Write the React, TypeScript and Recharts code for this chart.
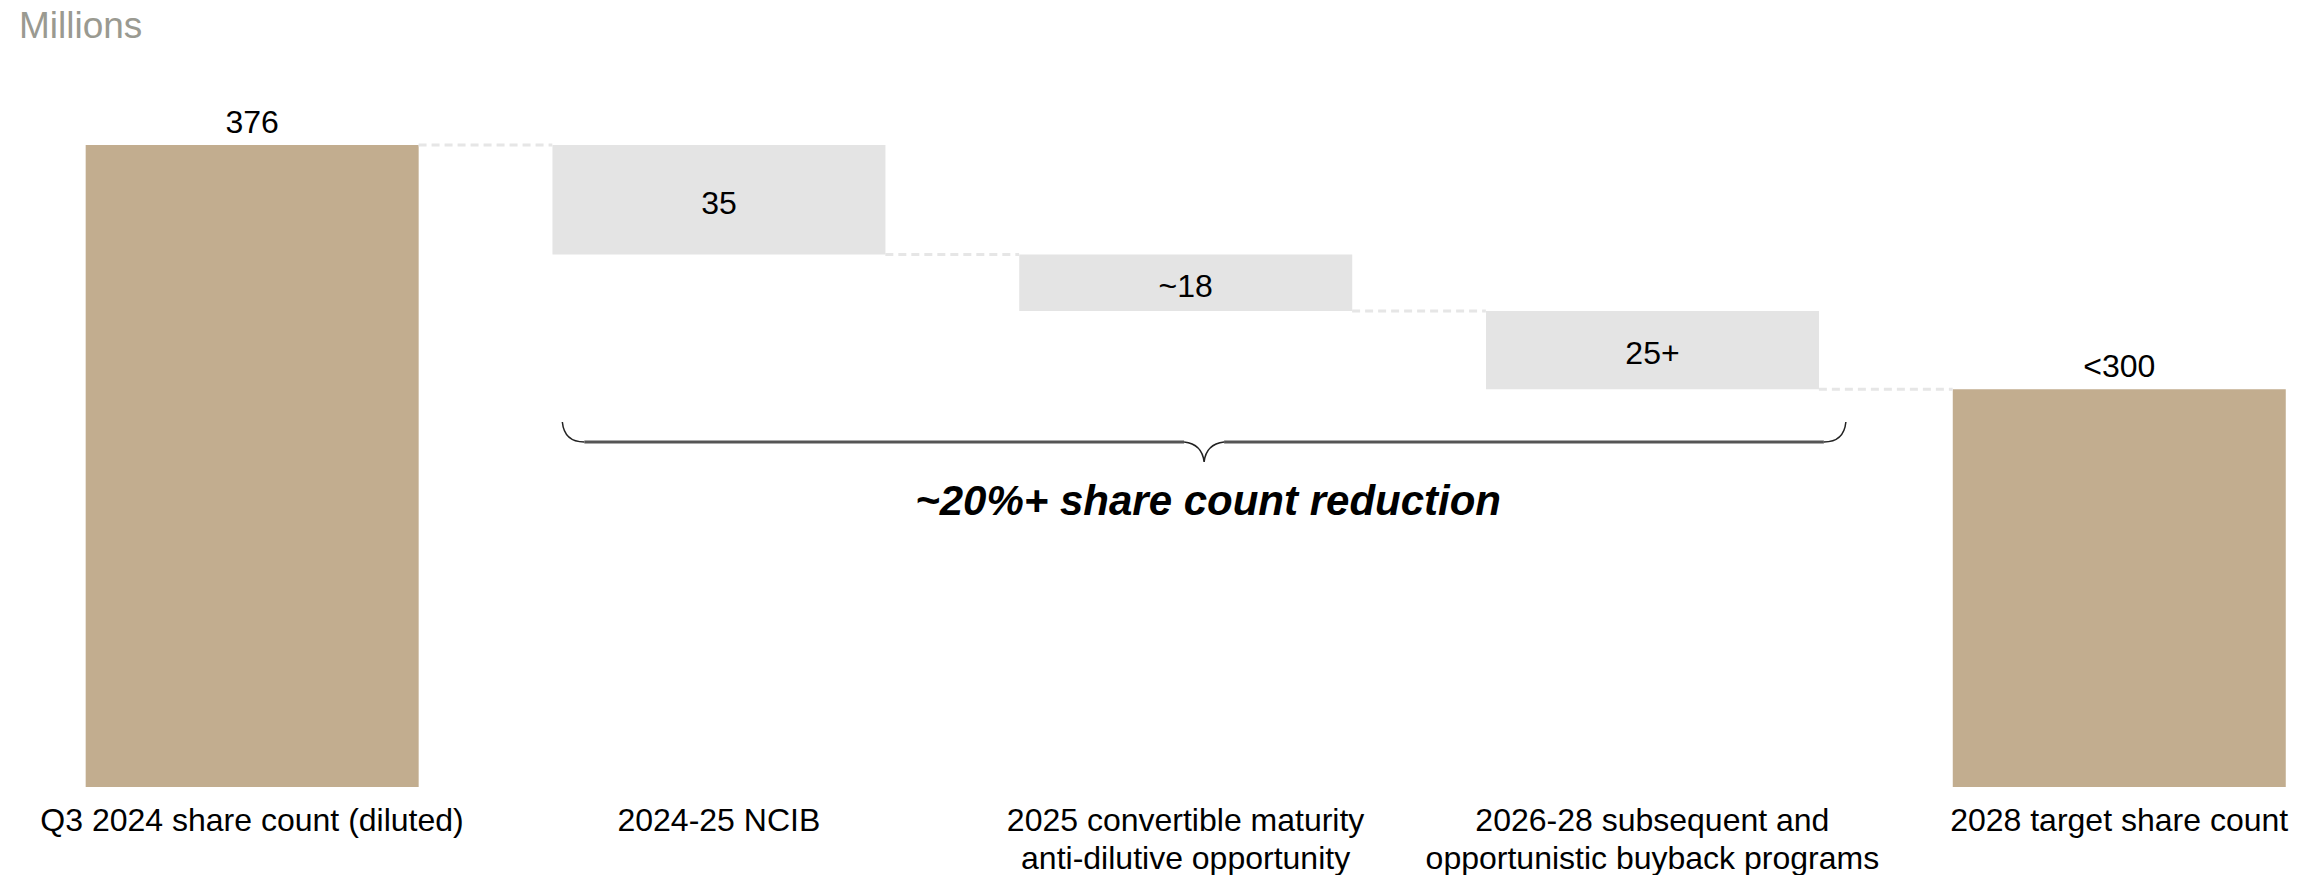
import React from "react";
import { BarChart, Bar, XAxis, YAxis, Cell, LabelList, ReferenceLine } from "recharts";

const categoryLines = [
  ["Q3 2024 share count (diluted)"],
  ["2024-25 NCIB"],
  ["2025 convertible maturity", "anti-dilutive opportunity"],
  ["2026-28 subsequent and", "opportunistic buyback programs"],
  ["2028 target share count"],
];
const startCount = 376;
const reductions = [35, 18, 25];
const targetCount = 298;
const valueLabels = ["376", "35", "~18", "25+", "<300"];

const WIDTH = 2318;
const HEIGHT = 875;
const Y_DOMAIN: [number, number] = [171, 376];
const X_DOMAIN: [number, number] = [-0.54, 4.426];
const BAR_PX = 333;
const PX_PER_UNIT = WIDTH / (X_DOMAIN[1] - X_DOMAIN[0]);
const HALF_BAR = BAR_PX / 2 / PX_PER_UNIT;

const TAN = "#c2ad8f";
const GREY = "#e4e4e4";
const FONT = "'Liberation Sans', Arial, Helvetica, sans-serif";

// waterfall rows: totals start at the axis floor, steps float
let level = startCount;
const rows: any[] = [{ idx: 0, value: startCount, label: valueLabels[0], total: true }];
const levels: number[] = [startCount];
reductions.forEach((r, i) => {
  rows.push({ idx: i + 1, value: [level - r, level], label: valueLabels[i + 1], total: false });
  level -= r;
  levels.push(level);
});
rows.push({ idx: rows.length, value: targetCount, label: valueLabels[4], total: true });

const xPx = (v: number) => (v - X_DOMAIN[0]) * PX_PER_UNIT;

const CategoryTick = (props: any) => {
  const { x, y, payload } = props;
  const lines = categoryLines[payload.value] || [];
  return (
    <text x={x} y={y} textAnchor="middle" fontFamily={FONT} fontSize={32} fill="#000">
      {lines.map((l, i) => (
        <tspan key={i} x={x} dy={i === 0 ? 44 : 38}>
          {l}
        </tspan>
      ))}
    </text>
  );
};

const renderValueLabel = (props: any) => {
  const { x, y, width, height, value, index } = props;
  const row = rows[index];
  const top = Math.min(y, y + height);
  const h = Math.abs(height);
  const cx = x + width / 2;
  const ty = row.total ? top - 12 : top + h / 2 + 14;
  return (
    <text x={cx} y={ty} textAnchor="middle" fontFamily={FONT} fontSize={32} fill="#000">
      {value}
    </text>
  );
};

export default function App() {
  const braceL = xPx(1) - BAR_PX / 2 + 10;
  const braceR = xPx(3) + BAR_PX / 2 + 27;
  const mid = (braceL + braceR) / 2;
  const bTop = 422;
  const bLine = 442;
  const bTip = 462;

  return (
    <div style={{ position: "absolute", left: 0, top: 0, width: WIDTH, height: HEIGHT, background: "#fff" }}>
      <BarChart
        width={WIDTH}
        height={HEIGHT}
        data={rows}
        margin={{ top: 145, right: 0, bottom: 0, left: 0 }}
      >
        <XAxis
          dataKey="idx"
          type="number"
          domain={X_DOMAIN}
          ticks={[0, 1, 2, 3, 4]}
          interval={0}
          axisLine={false}
          tickLine={false}
          tickSize={0}
          tickMargin={0}
          height={88}
          tick={<CategoryTick />}
        />
        <YAxis hide domain={Y_DOMAIN} />
        {levels.map((lv, i) => (
          <ReferenceLine
            key={i}
            segment={[
              { x: i + HALF_BAR, y: lv },
              { x: i + 1 - HALF_BAR, y: lv },
            ]}
            stroke="#e6e6e6"
            strokeWidth={3}
            strokeDasharray="8 5"
            ifOverflow="visible"
          />
        ))}
        <Bar dataKey="value" barSize={BAR_PX} isAnimationActive={false}>
          {rows.map((r, i) => (
            <Cell key={i} fill={r.total ? TAN : GREY} />
          ))}
          <LabelList dataKey="label" content={renderValueLabel} />
        </Bar>
      </BarChart>
      <svg
        width={WIDTH}
        height={HEIGHT}
        style={{ position: "absolute", left: 0, top: 0, pointerEvents: "none" }}
      >
        <text x={19} y={38} fontFamily={FONT} fontSize={37} fill="#9a9a91">
          Millions
        </text>
        <path
          d={`M ${braceL} ${bTop} Q ${braceL + 2} ${bLine} ${braceL + 22} ${bLine}`}
          fill="none"
          stroke="#222"
          strokeWidth={1.5}
        />
        <path
          d={`M ${braceR} ${bTop} Q ${braceR - 2} ${bLine} ${braceR - 22} ${bLine}`}
          fill="none"
          stroke="#222"
          strokeWidth={1.5}
        />
        <path
          d={`M ${braceL + 22} ${bLine} L ${mid - 20} ${bLine} M ${mid + 20} ${bLine} L ${braceR - 22} ${bLine}`}
          fill="none"
          stroke="#555"
          strokeWidth={3}
        />
        <path
          d={`M ${mid - 20} ${bLine} Q ${mid - 2} ${bLine + 2} ${mid} ${bTip} Q ${mid + 2} ${bLine + 2} ${mid + 20} ${bLine}`}
          fill="none"
          stroke="#222"
          strokeWidth={1.5}
        />
        <text
          x={mid + 4}
          y={515}
          textAnchor="middle"
          fontFamily={FONT}
          fontSize={42}
          fontWeight="bold"
          fontStyle="italic"
          fill="#000"
        >
          ~20%+ share count reduction
        </text>
      </svg>
    </div>
  );
}
